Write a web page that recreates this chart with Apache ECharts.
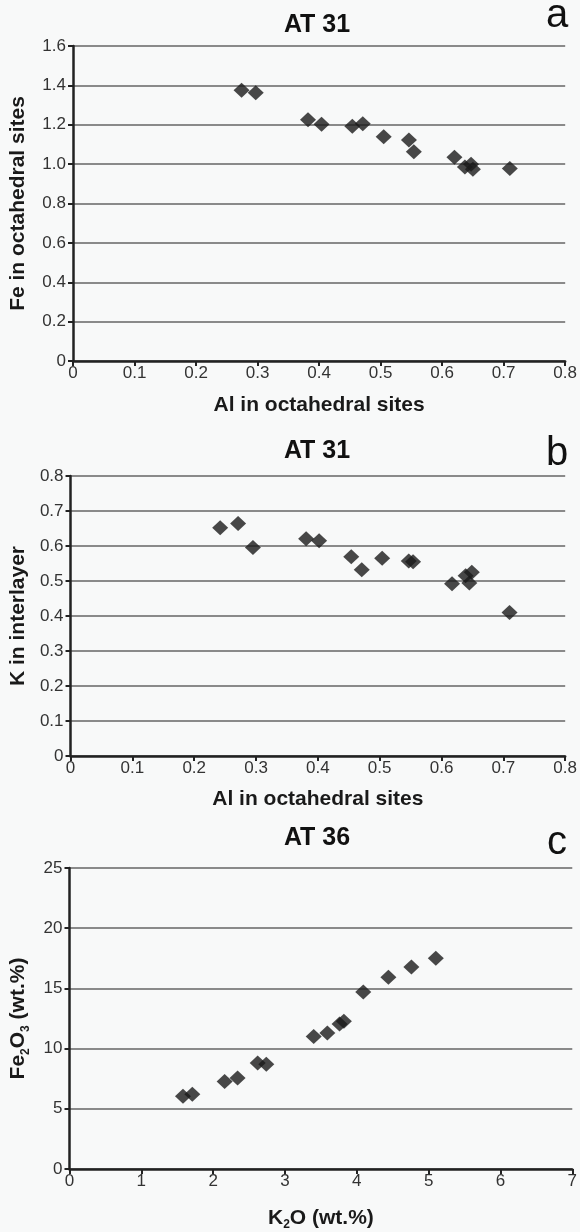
<!DOCTYPE html>
<html>
<head>
<meta charset="utf-8">
<script src="https://cdn.jsdelivr.net/npm/echarts@6/dist/echarts.min.js"></script>
<style>
  html, body { margin: 0; padding: 0; background: #f8f9f9; }
  #chart { width: 580px; height: 1232px; }
</style>
</head>
<body>
<div id="chart"></div>
<script>
// Sample AT 31: octahedral Al vs octahedral Fe
const alA = [0.274, 0.297, 0.382, 0.404, 0.454, 0.471, 0.505, 0.546, 0.554, 0.620, 0.637, 0.647, 0.650, 0.710];
const feA = [1.375, 1.362, 1.226, 1.203, 1.193, 1.205, 1.139, 1.123, 1.063, 1.035, 0.986, 1.000, 0.974, 0.978];

// Sample AT 31: octahedral Al vs interlayer K
const alB = [0.242, 0.271, 0.295, 0.381, 0.402, 0.454, 0.471, 0.504, 0.547, 0.554, 0.617, 0.639, 0.645, 0.649, 0.710];
const kB  = [0.652, 0.664, 0.596, 0.621, 0.615, 0.569, 0.532, 0.565, 0.557, 0.555, 0.492, 0.515, 0.494, 0.525, 0.410];

// Sample AT 36: K2O vs Fe2O3 (wt.%)
const k2oC   = [1.58, 1.71, 2.16, 2.34, 2.62, 2.74, 3.40, 3.59, 3.76, 3.82, 4.09, 4.44, 4.76, 5.10];
const fe2o3C = [6.05, 6.21, 7.26, 7.55, 8.80, 8.70, 11.00, 11.29, 12.04, 12.28, 14.70, 15.92, 16.78, 17.50];

const panelTitles = ['AT 31', 'AT 31', 'AT 36'];
const panelLetters = ['a', 'b', 'c'];

const FONT = '"Liberation Sans", Arial, Helvetica, sans-serif';
const INK = '#222222';
const GRID_GRAY = '#8a8a8a';

function pairs(xs, ys) { return xs.map((x, i) => [x, ys[i]]); }

function oneDecimal(v) { return v === 0 ? '0' : v.toFixed(1); }

const nameRich = {
  m: { fontFamily: FONT, fontSize: 21, fontWeight: 'bold', color: '#1a1a1a', lineHeight: 26 },
  s: { fontFamily: FONT, fontSize: 12, fontWeight: 'bold', color: '#1a1a1a', lineHeight: 26, verticalAlign: 'bottom' }
};

function xAxisOf(gridIndex, max, interval, name, nameGap, fmt) {
  return {
    type: 'value', gridIndex, min: 0, max, interval,
    name, nameLocation: 'middle', nameGap,
    nameTextStyle: { fontFamily: FONT, fontSize: 21, fontWeight: 'bold', color: '#1a1a1a', rich: nameRich },
    axisLine: { show: true, onZero: false, lineStyle: { color: INK, width: 2.5 } },
    axisTick: { show: true, inside: false, length: 5, lineStyle: { color: INK, width: 2 } },
    axisLabel: { fontFamily: FONT, fontSize: 17, color: '#333', margin: 4, formatter: fmt, showMaxLabel: true, showMinLabel: true },
    splitLine: { show: false }
  };
}

function yAxisOf(gridIndex, max, interval, name, nameGap, fmt) {
  return {
    type: 'value', gridIndex, min: 0, max, interval,
    name, nameLocation: 'middle', nameGap, nameRotate: 90,
    nameTextStyle: { fontFamily: FONT, fontSize: 21, fontWeight: 'bold', color: '#1a1a1a', rich: nameRich },
    axisLine: { show: true, onZero: false, lineStyle: { color: INK, width: 2.5 } },
    axisTick: { show: true, inside: false, length: 5, lineStyle: { color: INK, width: 2 } },
    axisLabel: { fontFamily: FONT, fontSize: 17, color: '#333', margin: 7, formatter: fmt, showMaxLabel: true, showMinLabel: true },
    splitLine: { show: true, lineStyle: { color: GRID_GRAY, width: 2 } }
  };
}

function scatterOf(i, data) {
  return {
    type: 'scatter', xAxisIndex: i, yAxisIndex: i, data,
    symbol: 'diamond', symbolSize: [16, 15],
    itemStyle: { color: '#1a1a1a' },
    silent: true, animation: false
  };
}

const titleTops = [13, 439, 826];
const letterTops = [-4, 434, 823];
const titles = [];
panelTitles.forEach((t, i) => {
  titles.push({
    text: t, left: 317, top: titleTops[i], textAlign: 'center', padding: 0,
    textStyle: { fontFamily: FONT, fontSize: 25, fontWeight: 'bold', color: '#111' }
  });
  titles.push({
    text: panelLetters[i], left: 557, top: letterTops[i], textAlign: 'center', padding: 0,
    textStyle: { fontFamily: FONT, fontSize: 40, fontWeight: 'normal', color: '#111' }
  });
});

const option = {
  backgroundColor: '#f8f9f9',
  animation: false,
  title: titles,
  grid: [
    { left: 65, top: 46, width: 505, height: 315 },
    { left: 65, top: 476, width: 510, height: 280 },
    { left: 61, top: 868, width: 512, height: 311 }
  ],
  xAxis: [
    xAxisOf(0, 0.8, 0.1, 'Al in octahedral sites', 34, v => (v === 0 ? '0' : v.toFixed(1))),
    xAxisOf(1, 0.8, 0.1, 'Al in octahedral sites', 33, v => (v === 0 ? '0' : v.toFixed(1))),
    xAxisOf(2, 7, 1, '{m|K}{s|2}{m|O (wt.%)}', 36, v => String(v))
  ],
  yAxis: [
    yAxisOf(0, 1.6, 0.2, 'Fe in octahedral sites', 44, oneDecimal),
    yAxisOf(1, 0.8, 0.1, 'K in interlayer', 40, oneDecimal),
    yAxisOf(2, 25, 5, '{m|Fe}{s|2}{m|O}{s|3}{m| (wt.%)}', 38, v => String(v))
  ],
  series: [
    scatterOf(0, pairs(alA, feA)),
    scatterOf(1, pairs(alB, kB)),
    scatterOf(2, pairs(k2oC, fe2o3C))
  ]
};

const chart = echarts.init(document.getElementById('chart'), null, { renderer: 'canvas' });
chart.setOption(option);
</script>
</body>
</html>
